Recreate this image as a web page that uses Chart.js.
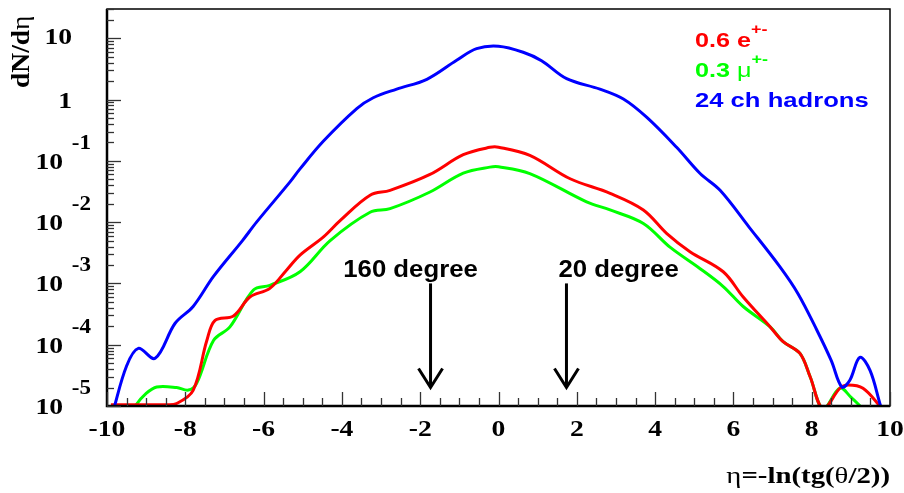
<!DOCTYPE html>
<html>
<head>
<meta charset="utf-8">
<script src="https://cdn.jsdelivr.net/npm/chart.js@4/dist/chart.umd.min.js"></script>
<style>
  html, body { margin: 0; padding: 0; background: #fff; }
  #wrap { width: 904px; height: 493px; position: relative; }
</style>
</head>
<body>
<div id="wrap"><canvas id="c" width="904" height="493"></canvas></div>
<script>
// ---- data (eta, dN/deta) ----
const hadronEta = [-9.85, -9.5, -9.2, -8.77, -8.26, -7.8, -7.28, -6.54, -6.18, -5.33, -5.07, -4.47, -3.62, -3.2, -2.6, -1.83, -1.07, -0.56, 0, 0.63, 1.1, 1.74, 2.59, 3.19, 3.79, 4.55, 5.15, 5.66, 6.4, 7.19, 7.65, 8.13, 8.5, 8.77, 8.97, 9.23, 9.49, 9.76, 9.85];
const hadronVal = [8e-6, 4.5e-5, 8.7e-5, 6.0e-5, 2.24e-4, 4.2e-4, 1.3e-3, 5.0e-3, 0.01, 0.045, 0.074, 0.21, 0.71, 1.07, 1.48, 2.14, 4.37, 6.76, 7.4, 5.9, 4.3, 2.19, 1.48, 1.02, 0.51, 0.166, 0.062, 0.033, 8.3e-3, 1.86e-3, 6.8e-4, 1.74e-4, 5.5e-5, 2.04e-5, 2.6e-5, 6.2e-5, 3.8e-5, 1.0e-5, 7e-6];

const elecEta = [-9.9, -9.0, -8.5, -8.22, -7.8, -7.45, -7.24, -6.77, -6.35, -5.84, -5.41, -5.07, -4.47, -4.04, -3.28, -2.77, -1.75, -0.9, -0.22, 0, 0.8, 1.83, 2.85, 3.7, 4.3, 4.89, 5.74, 6.25, 6.94, 7.27, 7.7, 7.96, 8.29, 8.72, 8.93, 9.31, 9.74, 9.85];
const elecVal = [1.05e-5, 1.05e-5, 1.05e-5, 1.1e-5, 1.8e-5, 1.17e-4, 2.5e-4, 2.95e-4, 6.0e-4, 8.3e-4, 1.66e-3, 2.9e-3, 5.75e-3, 0.0107, 0.0275, 0.033, 0.060, 0.126, 0.166, 0.167, 0.123, 0.051, 0.0295, 0.0158, 6.5e-3, 3.3e-3, 1.55e-3, 6.0e-4, 1.95e-4, 1.12e-4, 7.2e-5, 3.0e-5, 9e-6, 1.95e-5, 2.2e-5, 1.95e-5, 1.0e-5, 8e-6];

const muonEta = [-9.4, -9.28, -9.0, -8.73, -8.22, -7.92, -7.71, -7.28, -6.86, -6.26, -5.84, -5.07, -4.3, -3.28, -2.77, -1.75, -0.9, -0.22, 0, 0.8, 2.25, 2.85, 3.7, 4.38, 5.15, 5.74, 6.25, 6.94, 7.27, 7.7, 7.96, 8.29, 8.72, 9.0, 9.31];
const muonVal = [7e-6, 1.0e-5, 1.6e-5, 2.04e-5, 2.0e-5, 1.82e-5, 2.34e-5, 1.17e-4, 1.95e-4, 7.8e-4, 9.3e-4, 1.55e-3, 5.0e-3, 0.0145, 0.0166, 0.031, 0.063, 0.079, 0.08, 0.062, 0.0214, 0.0158, 9.5e-3, 3.9e-3, 1.74e-3, 8.9e-4, 4.2e-4, 1.95e-4, 1.12e-4, 7.2e-5, 3.0e-5, 9e-6, 1.95e-5, 1.4e-5, 9e-6];

const seriesNames = ["0.6 e", "0.3 \u03bc", "24 ch hadrons"];
const seriesColors = ["#ff0000", "#00ff00", "#0000ff"];

const xMin = -10, xMax = 10;
const yMin = 1e-5, yMax = 30;
const xTickLabels = ["-10", "-8", "-6", "-4", "-2", "0", "2", "4", "6", "8", "10"];
const yDecadeExps = [-5, -4, -3, -2, -1, 0, 1];

const arrowEta = [-1.736, 1.736];
const arrowTopVal = 1e-3;
const arrowTipVal = 2.0e-5;
const arrowLabels = ["160 degree", "20 degree"];

function pts(xs, ys) { return xs.map((x, i) => ({ x: x, y: ys[i] })); }

function stretchText(ctx, text, x, y, font, color, align, sx) {
  ctx.save();
  ctx.font = font;
  ctx.fillStyle = color;
  ctx.textBaseline = 'alphabetic';
  ctx.translate(x, y);
  ctx.scale(sx, 1);
  ctx.textAlign = align;
  ctx.fillText(text, 0, 0);
  ctx.restore();
}
function textW(ctx, text, font, sx) {
  ctx.save(); ctx.font = font; const w = ctx.measureText(text).width * sx; ctx.restore(); return w;
}
// draw a sequence of [text, font, dy] runs starting at x (left aligned)
function runs(ctx, list, x, y, color, sx) {
  let cx = x;
  list.forEach(r => {
    stretchText(ctx, r[0], cx, y + (r[2] || 0), r[1], color, 'left', sx);
    cx += textW(ctx, r[0], r[1], sx);
  });
  return cx;
}

const SERIF_B = 'bold 24px "Liberation Serif", "Times New Roman", serif';
const SERIF_N = '24px "Liberation Serif", "Times New Roman", serif';
const SANS_B = 'bold 21px "Liberation Sans", Arial, sans-serif';

const decorPlugin = {
  id: 'decor',
  afterDraw(chart) {
    const ctx = chart.ctx;
    const xs = chart.scales.x, ys = chart.scales.y;
    const a = chart.chartArea;

    // frame
    ctx.save();
    ctx.strokeStyle = '#000';
    ctx.lineWidth = 1.5;
    ctx.strokeRect(a.left, a.top, a.right - a.left, a.bottom - a.top);
    ctx.lineWidth = 2.5;
    ctx.beginPath();
    ctx.moveTo(a.left, a.top); ctx.lineTo(a.left, a.bottom); ctx.lineTo(a.right, a.bottom);
    ctx.stroke();

    // y ticks (inside, from left frame)
    ctx.lineWidth = 1.3;
    ctx.strokeStyle = '#333';
    for (let e = -5; e <= 1; e++) {
      for (let k = 1; k <= 9; k++) {
        const v = k * Math.pow(10, e);
        if (v < yMin || v > yMax) continue;
        const py = Math.round(ys.getPixelForValue(v)) + 0.5;
        const len = (k === 1) ? 14 : 7;
        ctx.beginPath(); ctx.moveTo(a.left, py); ctx.lineTo(a.left + len, py); ctx.stroke();
      }
    }
    // x ticks (inside, from bottom frame)
    for (let i = 0; i <= 40; i++) {
      const v = xMin + i * 0.5;
      const px = Math.round(xs.getPixelForValue(v)) + 0.5;
      const len = (i % 4 === 0) ? 14 : 8;
      ctx.beginPath(); ctx.moveTo(px, a.bottom); ctx.lineTo(px, a.bottom - len); ctx.stroke();
    }
    ctx.restore();

    // x tick labels
    xTickLabels.forEach(t => {
      const px = xs.getPixelForValue(parseFloat(t));
      stretchText(ctx, t, px, a.bottom + 30, SERIF_B, '#000', 'center', 1.15);
    });

    // y tick labels: 10^n with superscript exponent
    const EXP_F = 'bold 20px "Liberation Serif", "Times New Roman", serif';
    yDecadeExps.forEach(e => {
      const py = ys.getPixelForValue(Math.pow(10, e));
      if (e === 0) {
        stretchText(ctx, '1', 72, py + 8, SERIF_B, '#000', 'right', 1.15);
      } else if (e === 1) {
        stretchText(ctx, '10', 72, py + 6, SERIF_B, '#000', 'right', 1.15);
      } else {
        stretchText(ctx, '10', 63, py + 8, SERIF_B, '#000', 'right', 1.15);
        stretchText(ctx, String(e), 91, py - 12, EXP_F, '#000', 'right', 1.15);
      }
    });

    // axis titles
    ctx.save();
    ctx.translate(29, 10);
    ctx.rotate(-Math.PI / 2);
    runs(ctx, [['dN/d', 'bold 25px "Liberation Serif", serif'], ['\u03b7', '25px "Liberation Serif", serif']], -78, 0, '#000', 1.1);
    ctx.restore();
    // x title right-aligned at right edge
    const xt = [['\u03b7', SERIF_N], ['=-ln(tg(', SERIF_B], ['\u03b8', SERIF_N], ['/2))', SERIF_B]];
    let tw = 0; xt.forEach(r => tw += textW(ctx, r[0], r[1], 1.2));
    runs(ctx, xt, 890 - tw, 483, '#000', 1.2);

    // legend text
    const SUP = 'bold 15px "Liberation Sans", Arial, sans-serif';
    const SANS_N = '21px "Liberation Sans", Arial, sans-serif';
    runs(ctx, [['0.6 e', SANS_B], ['+-', SUP, -13]], 695, 47, seriesColors[0], 1.2);
    runs(ctx, [['0.3 ', SANS_B], ['\u03bc', SANS_N], ['+-', SUP, -13]], 695, 77, seriesColors[1], 1.2);
    runs(ctx, [[seriesNames[2], SANS_B]], 695, 107, seriesColors[2], 1.22);

    // arrows
    ctx.save();
    ctx.strokeStyle = '#000';
    ctx.lineWidth = 3;
    arrowEta.forEach((eta, i) => {
      const px = xs.getPixelForValue(eta);
      const pTop = ys.getPixelForValue(arrowTopVal);
      const pTip = ys.getPixelForValue(arrowTipVal);
      ctx.beginPath(); ctx.moveTo(px, pTop); ctx.lineTo(px, pTip); ctx.stroke();
      ctx.beginPath();
      ctx.moveTo(px - 12, pTip - 19); ctx.lineTo(px, pTip); ctx.lineTo(px + 12, pTip - 19);
      ctx.stroke();
      const LF = 'bold 23px "Liberation Sans", Arial, sans-serif';
      if (i === 0) stretchText(ctx, arrowLabels[i], px - 20, pTop - 6, LF, '#000', 'center', 1.12);
      else stretchText(ctx, arrowLabels[i], px - 8, pTop - 6, LF, '#000', 'left', 1.12);
    });
    ctx.restore();
  }
};

const mk = (label, xs, ys, color) => ({
  label: label, data: pts(xs, ys), borderColor: color, backgroundColor: color,
  borderWidth: 3, pointRadius: 0, tension: 0.35, fill: false
});

new Chart(document.getElementById('c'), {
  type: 'line',
  data: {
    datasets: [
      mk(seriesNames[2], hadronEta, hadronVal, seriesColors[2]),
      mk(seriesNames[0], elecEta, elecVal, seriesColors[0]),
      mk(seriesNames[1], muonEta, muonVal, seriesColors[1])
    ]
  },
  options: {
    responsive: false,
    animation: false,
    devicePixelRatio: 1,
    layout: { padding: { left: 0, right: 14, top: 9, bottom: 0 } },
    plugins: { legend: { display: false }, tooltip: { enabled: false } },
    scales: {
      x: {
        type: 'linear', min: xMin, max: xMax,
        grid: { display: false }, border: { display: false },
        ticks: { display: false },
        afterFit(s) { s.height = 87; }
      },
      y: {
        type: 'logarithmic', min: yMin, max: yMax,
        grid: { display: false }, border: { display: false },
        ticks: { display: false },
        afterFit(s) { s.width = 107; }
      }
    }
  },
  plugins: [decorPlugin]
});
</script>
</body>
</html>
